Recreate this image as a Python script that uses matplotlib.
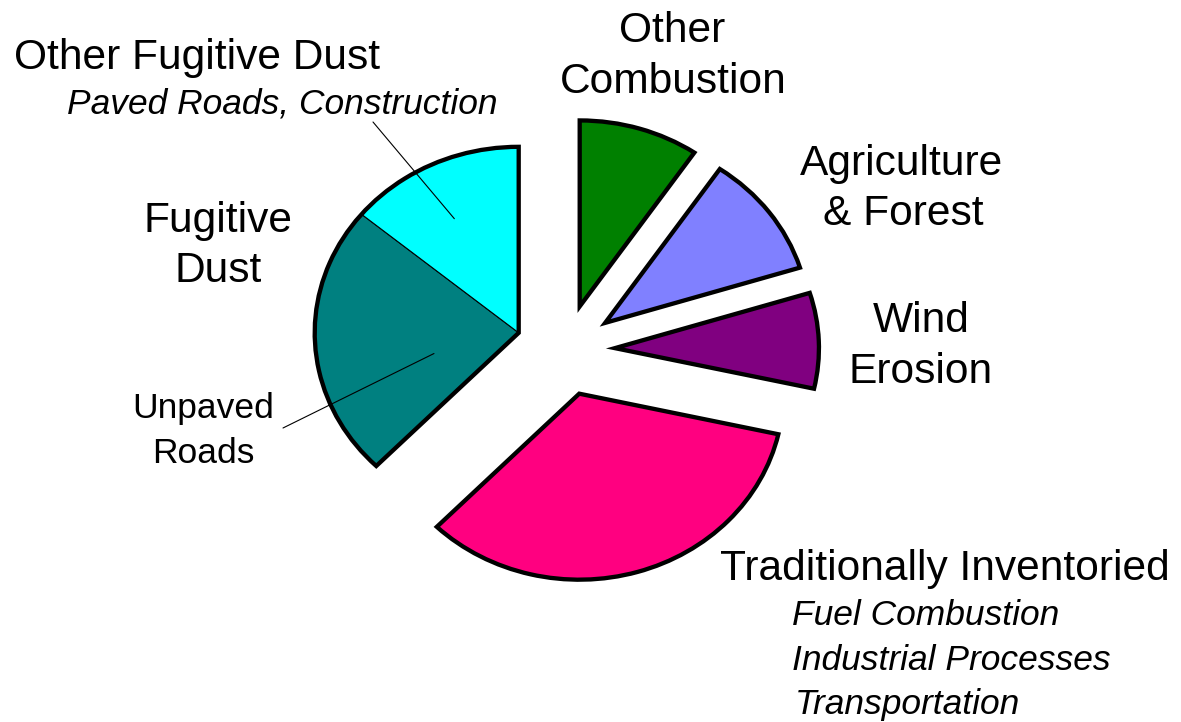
import matplotlib
matplotlib.use('Agg')
import numpy as np
from matplotlib import pyplot as plt

# slices, clockwise from 12 o'clock
sources = ['Other Combustion', 'Agriculture & Forest', 'Wind Erosion',
           'Traditionally Inventoried', 'Unpaved Roads', 'Paved Roads, Construction']
shares = [9.5, 10.7, 8.3, 33.8, 23.7, 14.0]
# slices that are pulled out together
groups = ['Other Combustion', 'Agriculture & Forest', 'Wind Erosion',
          'Traditionally Inventoried', 'Fugitive Dust', 'Fugitive Dust']

colors = ['#008000', '#8080FF', '#800080', '#FF0080', '#008080', '#00FFFF']

W, H = 1181, 722
CX, CY = 565, 350      # pie centre, pixels
RX, RY = 204, 186      # the pie is slightly squashed
EXPLODE = 0.245

plt.rcParams['font.family'] = ['Liberation Sans', 'DejaVu Sans']

fig = plt.figure(figsize=(W / 100, H / 100), dpi=100)
fig.patch.set_facecolor('white')
ax = fig.add_axes([0, 0, 1, 1])

group_names = list(dict.fromkeys(groups))
group_vals = [sum(v for v, g in zip(shares, groups) if g == name) for name in group_names]

# outlines of the groups (thick)
outer, _ = ax.pie(group_vals, startangle=90, counterclock=False,
                  explode=[EXPLODE] * len(group_vals),
                  wedgeprops=dict(fill=False, edgecolor='black', linewidth=3.1,
                                  joinstyle='miter', zorder=3))
# the slices themselves (thin dividers), moved with their group
inner, _ = ax.pie(shares, startangle=90, counterclock=False, colors=colors,
                  wedgeprops=dict(edgecolor='black', linewidth=0.8, zorder=2))
for w, g in zip(inner, groups):
    w.set_center(outer[group_names.index(g)].center)

ax.set_aspect('auto')
ax.set_xlim(-CX / RX, (W - CX) / RX)
ax.set_ylim(-(H - CY) / RY, CY / RY)
ax.axis('off')

# overlay in pixel coordinates for the text
tx = fig.add_axes([0, 0, 1, 1])
tx.set_xlim(0, W)
tx.set_ylim(H, 0)
tx.axis('off')
tx.patch.set_alpha(0)

BIG, SMALL = 30.6, 25.5
big_labels = [('Other Fugitive Dust', 197, 69, 'center'),
              ('Fugitive', 218, 232, 'center'), ('Dust', 218, 282, 'center'),
              ('Other', 672, 42, 'center'), ('Combustion', 673, 93, 'center'),
              ('Agriculture', 902, 175, 'center'), ('& Forest', 903, 225, 'center'),
              ('Wind', 921, 332, 'center'), ('Erosion', 921, 383, 'center'),
              ('Traditionally Inventoried', 720, 580, 'left')]
for s, x, y, ha in big_labels:
    tx.text(x, y, s, fontsize=BIG, ha=ha, va='baseline')

small_labels = [('Paved Roads, Construction', 282, 113, 'center', 'italic'),
                ('Unpaved', 203, 418, 'center', 'normal'),
                ('Roads', 203, 463, 'center', 'normal'),
                ('Fuel Combustion', 792, 625, 'left', 'italic'),
                ('Industrial Processes', 792, 670, 'left', 'italic'),
                ('Transportation', 795, 714, 'left', 'italic')]
for s, x, y, ha, st in small_labels:
    tx.text(x, y, s, fontsize=SMALL, ha=ha, va='baseline', style=st)


def inside(w, frac, r):
    a = np.radians(w.theta1 + frac * (w.theta2 - w.theta1))
    cx, cy = w.center
    return cx + r * np.cos(a), cy + r * np.sin(a)


# leader lines
paved = inner[sources.index('Paved Roads, Construction')]
unpaved = inner[sources.index('Unpaved Roads')]
for w, frac, r, start in [(paved, 0.54, 0.69, (373, 122)),
                          (unpaved, 0.64, 0.43, (283, 428))]:
    ax.annotate('', xy=inside(w, frac, r), xycoords='data',
                xytext=start, textcoords=tx.transData,
                arrowprops=dict(arrowstyle='-', lw=0.8, color='black',
                                shrinkA=0, shrinkB=0), zorder=4)

fig.savefig('out.png', dpi=100, facecolor='white')
